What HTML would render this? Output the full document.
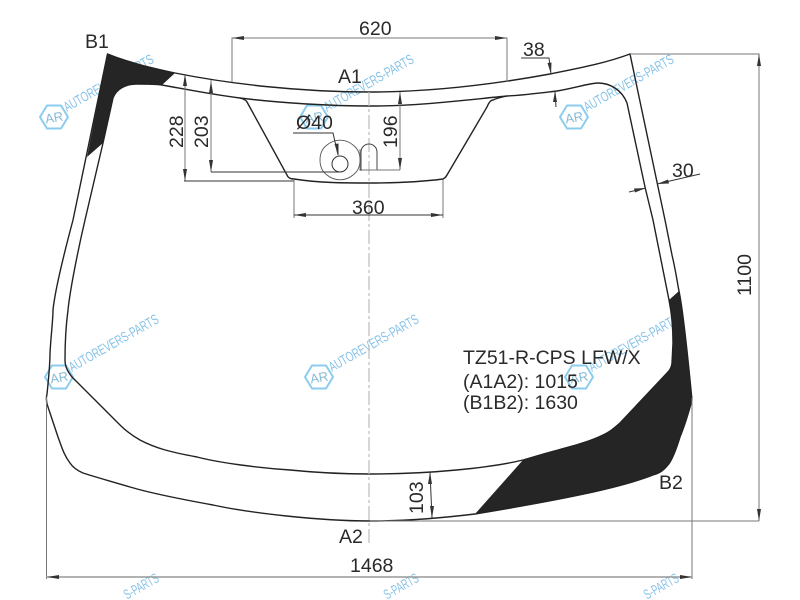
<!DOCTYPE html>
<html>
<head>
<meta charset="utf-8">
<style>
html,body{margin:0;padding:0;background:#fff;width:800px;height:600px;overflow:hidden}
svg{display:block}
text{font-family:"Liberation Sans",sans-serif;fill:#2a2a2a}
.t{font-size:19.5px}
.dim{stroke:#777;stroke-width:1;fill:none}
.dk{stroke:#333;stroke-width:1;fill:none}
.gl{stroke:#222;stroke-width:1.4;fill:none}
.a{fill:#333}
</style>
</head>
<body>
<svg width="800" height="600" viewBox="0 0 800 600" xmlns="http://www.w3.org/2000/svg">
<defs>
<g id="wm" opacity="0.8">
  <polygon points="-14,0 -7,-11.5 7,-11.5 14,0 7,11.5 -7,11.5" fill="none" stroke="#6fc0ea" stroke-width="2" stroke-linejoin="round"/>
  <text x="-9" y="5" font-size="13" transform="rotate(-10)" style="fill:#6aa9cc">AR</text>
  <text x="13" y="-5" font-size="14" textLength="101" lengthAdjust="spacingAndGlyphs" transform="rotate(-29.6 13 -5)" style="fill:#69b4e2">AUTOREVERS-PARTS</text>
</g>
<g id="wmb" opacity="0.8">
  <text x="0" y="0" font-size="14" text-anchor="end" textLength="38" lengthAdjust="spacingAndGlyphs" transform="rotate(-29.6)" style="fill:#69b4e2">S-PARTS</text>
</g>
</defs>

<use href="#wm" x="54" y="117"/>
<use href="#wm" x="314" y="117"/>
<use href="#wm" x="574" y="117"/>
<use href="#wm" x="59" y="377"/>
<use href="#wm" x="319" y="377"/>
<use href="#wm" x="579" y="377"/>
<use href="#wmb" x="160" y="581"/>
<use href="#wmb" x="420" y="581"/>
<use href="#wmb" x="680" y="581"/>

<!-- black areas -->
<path fill="#252525" d="M107.5,54 C130,63 152,68 175,73 L162,85 C155,84 146,84 137,84 C124,84 116,90 113,98 L103,143 L87,157 Z"/>
<path fill="#252525" d="M679,291 C684,315 689,370 692,400 C688,415 685,425 680,437 C676,450 672,460 668,465 C664,470 660,473 653,475 C620,488 560,500 475,514 L523,460 L540,455 C560,449 585,444 603,435 C608,433 612,430 620,423 L668,372 C670,370 672,366 672,363 L673,343 C673,330 672,315 669,300 Z"/>

<!-- outer -->
<path class="gl" d="M107.5,54 C130,63 152,68 175,73 C230,84 300,92 370,92 C430,92 490,85 550,74 C580,68 606,63 630,54 L665,220 L672,255 C676,272 677,281 679,291 C684,315 689,370 692,400 C688,415 685,425 680,437 C676,450 672,460 668,465 C664,470 660,473 653,475 C620,488 560,500 475,514 C450,517 410,521 370,521 C320,521 250,513 213,505 C180,499 150,493 130,487 C110,481 95,477 83,473 C76,470 72,466 70,463 C64,455 62,448 58,437 L48,407 C46,402 46,398 47,394 C49,375 50,360 50,353 C51,335 53,320 53,310 C55,290 65,250 73,220 L107.5,54 Z"/>
<!-- inner -->
<path class="gl" d="M85,220 L103,143 L113,98 C116,90 124,84 137,84 C146,84 155,84 162,85 C190,90 215,95 240,98 C280,103 330,106 370,106 C420,106 465,100 507,96 C525,95 540,93 557,91 C575,88 590,83 598,83 C610,83 622,90 627,103 L645,187 L653,220 L669,300 C672,315 673,330 673,343 L672,363 C672,366 670,370 668,372 L620,423 C612,430 608,433 603,435 C585,444 560,449 540,455 L523,460 C490,468 430,474 370,474 C340,474 310,472 290,470 C260,468 220,463 197,457 C170,452 155,448 140,440 C133,436 125,430 120,425 C105,410 85,390 72,377 C68,372 65,367 65,360 C65,345 66,325 68,310 C70,290 78,250 85,220 Z"/>
<!-- mirror notch -->
<path class="gl" d="M240,98 C244,99 246,100 247,102 L287,175 C288,178 291,179 294,179 C320,183 345,183 370,183 C395,183 420,182 443,179 C445,178 446,177 447,175 L487,107 C489,102 491,100 493,100 C497,98 502,97 507,96"/>

<!-- centre line -->
<line x1="369" y1="92" x2="369" y2="545" stroke="#bbb" stroke-width="1.2" stroke-dasharray="14 3 3 3"/>

<!-- sensor area -->
<path d="M327,145 A20,20 0 0 1 353,145 Q360,150 360,160 Q360,170 353,175 A20,20 0 0 1 327,175 Q320,170 320,160 Q320,150 327,145 Z" fill="none" stroke="#555" stroke-width="0.9"/>
<circle cx="340" cy="164" r="8" fill="#fff" stroke="#333" stroke-width="1"/>
<path d="M361,170 L361,152 A8,8 0 0 1 377,152 L377,170 Z" fill="none" stroke="#444" stroke-width="1"/>
<line x1="360" y1="149" x2="360" y2="171" stroke="#666" stroke-width="0.8"/>

<!-- dimensions -->
<path class="dim" d="M232,82 V38 H507 V82"/>
<polygon class="a" points="232,38 244,36 244,40"/>
<polygon class="a" points="507,38 495,36 495,40"/>

<path class="dim" d="M185,75 V181"/>
<path class="dk" d="M184,181 H294"/>
<polygon class="a" points="185,74 183,86 187,86"/>
<polygon class="a" points="185,181 183,169 187,169"/>

<path class="dim" d="M211,80 V172"/>
<path class="dk" d="M211,172 H340"/>
<polygon class="a" points="211,81 209,93 213,93"/>
<polygon class="a" points="211,172 209,160 213,160"/>

<path class="dim" d="M400,92 V170"/>
<path class="dim" d="M362,170 H400"/>
<polygon class="a" points="400,92 398,104 402,104"/>
<polygon class="a" points="400,170 398,158 402,158"/>

<path class="dk" d="M293,133 H333 L338,155"/>
<polygon class="a" points="338.5,156 334.5,144 338.5,143.5"/>

<path class="dim" d="M294,180 V218"/>
<path class="dim" d="M443,180 V218"/>
<path class="dk" d="M294,215 H443"/>
<polygon class="a" points="294,215 306,213 306,217"/>
<polygon class="a" points="443,215 431,213 431,217"/>

<path class="dk" d="M521,58 H549 L551,74"/>
<polygon class="a" points="551,74 547.5,63 551.5,62.5"/>
<path class="dk" d="M556,107 L555,91"/>
<polygon class="a" points="555,91 553,102 557,102"/>

<path class="dk" d="M700,174 L657,184"/>
<polygon class="a" points="657,184 668,179.500 669,183.500"/>
<path class="dk" d="M629,192 L646,188"/>
<polygon class="a" points="646,188 635,192.500 634,188.500"/>

<path class="dim" d="M630,54 H759 V521"/>
<path class="dim" d="M370,521 H759"/>
<polygon class="a" points="759,54 757,66 761,66"/>
<polygon class="a" points="759,521 757,509 761,509"/>

<path class="dim" d="M46.500,397 V579"/>
<path class="dim" d="M692,398 V579"/>
<line x1="46" y1="577" x2="692" y2="577" stroke="#999" stroke-width="1.5"/>
<polygon class="a" points="47,577 59,575 59,579"/>
<polygon class="a" points="692,577 680,575 680,579"/>

<line x1="430" y1="472" x2="432" y2="518" stroke="#333" stroke-width="1"/>
<polygon class="a" points="430,472 428,484 432,484"/>
<polygon class="a" points="432,518 430,506 434,506"/>

<!-- labels -->
<text class="t" x="359" y="35">620</text>
<text class="t" x="338" y="83">A1</text>
<text class="t" x="85" y="48">B1</text>
<text class="t" x="296" y="129">Ø40</text>
<text class="t" x="352" y="214">360</text>
<text class="t" x="523" y="56">38</text>
<text class="t" x="672" y="177">30</text>
<text class="t" x="339" y="543">A2</text>
<text class="t" x="659" y="489">B2</text>
<text class="t" x="350" y="572">1468</text>
<text class="t" transform="translate(183,148) rotate(-90)">228</text>
<text class="t" transform="translate(208,148) rotate(-90)">203</text>
<text class="t" transform="translate(397,148) rotate(-90)">196</text>
<text class="t" transform="translate(423,514) rotate(-90)">103</text>
<text class="t" transform="translate(751,296) rotate(-90)">1100</text>
<text class="t" x="463" y="364">TZ51-R-CPS LFW/X</text>
<text class="t" x="463" y="388">(A1A2): 1015</text>
<text class="t" x="463" y="409">(B1B2): 1630</text>
</svg>
</body>
</html>
